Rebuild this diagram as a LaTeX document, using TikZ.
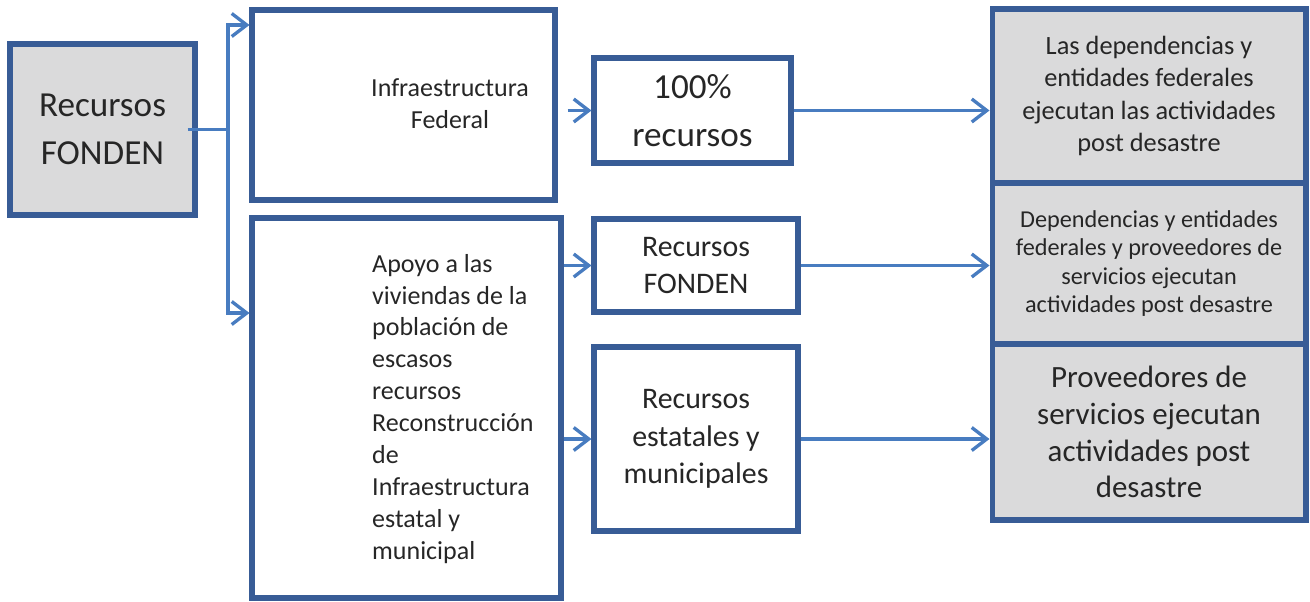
\documentclass[tikz,border=0pt]{standalone}
\usepackage{fontspec}
\setmainfont{Carlito}
\usetikzlibrary{arrows.meta}
\definecolor{boxblue}{RGB}{56,92,150}
\definecolor{flowblue}{RGB}{72,124,192}
\definecolor{boxgray}{RGB}{218,218,219}
\definecolor{ink}{RGB}{38,38,38}
\tikzset{
  box/.style={
    draw=boxblue, line width=2.9pt,
    inner sep=0pt, align=center, text=ink,
  },
  grey box/.style={
    box, fill=boxgray,
  },
  flow/.style={
    draw=flowblue, line width=1.9pt,
    -{Straight Barb[length=3mm, width=4.6mm, line width=1.9pt]},
  },
  plain flow/.style={
    draw=flowblue, line width=1.9pt,
  },
  big/.style={font=\fontsize{20pt}{27pt}\selectfont},
  mid/.style={font=\fontsize{17pt}{21.5pt}\selectfont},
  small/.style={font=\fontsize{14.8pt}{18.2pt}\selectfont},
}

\begin{document}
\begin{tikzpicture}[x=0.02cm, y=-0.02cm]
\useasboundingbox (0,0) rectangle (1310,601);

% left column
\node[grey box, big, minimum width=3.7cm, minimum height=3.42cm] (fonden) at (102.5,129.5) {Recursos\\FONDEN};
\node[box, minimum width=6.06cm, minimum height=3.8cm] (infra) at (403.5,105) {};
\node[box, minimum width=6.18cm, minimum height=7.6cm] (apoyo) at (406.5,408) {};
\node[small, align=center, text=ink] (infra text) at (450,104) {Infraestructura\\Federal};
\node[small, align=left, text=ink, anchor=west] (apoyo text) at (366,409) {Apoyo a las\\viviendas de la\\población de\\escasos\\recursos\\Reconstrucción\\de\\Infraestructura\\estatal y\\municipal};

% middle column
\node[box, big, minimum width=3.94cm, minimum height=2.1cm] (m1) at (692.5,110.5) {100\%\\recursos};
\node[box, mid, minimum width=4.08cm, minimum height=1.86cm] (m2) at (696,265.5) {Recursos\\FONDEN};
\node[box, mid, minimum width=4.08cm, minimum height=3.68cm] (m3) at (696,439) {Recursos\\estatales y\\municipales};

% right column
\node[grey box, minimum width=6.28cm, minimum height=3.48cm, font=\fontsize{15pt}{18.4pt}\selectfont] (r1) at (1149,96) {Las dependencias y\\entidades federales\\ejecutan las actividades\\post desastre};
\node[grey box, minimum width=6.28cm, minimum height=3.22cm, font=\fontsize{13.8pt}{16.2pt}\selectfont] (r2) at (1149,263.5) {Dependencias y entidades\\federales y proveedores de\\servicios ejecutan\\actividades post desastre};
\node[grey box, minimum width=6.28cm, minimum height=3.52cm, font=\fontsize{17.6pt}{21pt}\selectfont] (r3) at (1149,432) {Proveedores de\\servicios ejecutan\\actividades post\\desastre};

% fork out of the first box
\coordinate (up) at (228,25);
\coordinate (down) at (228,313);
\draw[plain flow] ([xshift=-0.2cm]fonden.east) -- (fonden.east -| up);
\draw[flow] (fonden.east -| up) |- (infra.west |- up);
\draw[flow] (fonden.east -| up) |- (apoyo.west |- down);

% into the middle column
\draw[flow] ([xshift=0.2cm]infra.east |- m1) -- (m1);
\draw[flow] (apoyo.east |- m2) -- (m2);
\draw[flow] (apoyo.east |- m3) -- (m3);

% into the right column
\foreach \i in {1,2,3}
  \draw[flow] (m\i.east) -- (m\i.east -| r\i.west);
\end{tikzpicture}
\end{document}
